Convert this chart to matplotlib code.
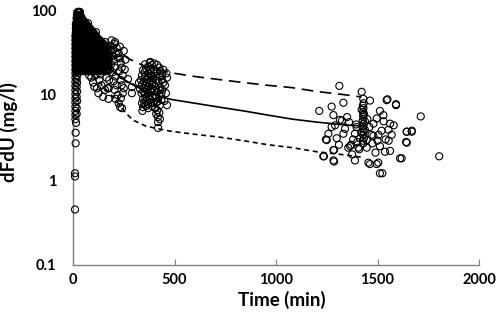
import matplotlib
matplotlib.use("Agg")
import matplotlib.pyplot as plt
from matplotlib.ticker import FixedLocator, NullLocator, FixedFormatter

plt.rcParams['font.family'] = ['Lato', 'DejaVu Sans']

# ---------------- data ----------------
# early samples (0-300 min): nominal time columns with concentrations (mg/l)
early_col_time = [12, 16, 20, 26, 32, 40, 48, 56, 64, 72, 80, 88, 96, 104,
                  112, 120, 130, 140, 150, 160, 170,
                  14, 18, 23, 29, 36, 44, 52, 60, 68, 76, 84, 92, 100, 108,
                  116, 125, 135, 145, 155, 165, 175]
early_col_conc = [
    [5.2, 5.8, 6.5, 7.3, 8.2, 9.1, 10.2, 11.4, 12.8, 14.3, 16, 18, 20.1, 22.5, 25.2, 28.3, 31.7, 35.5, 39.7, 44.5, 49.8],
    [19, 21.3, 23.8, 26.7, 29.9, 33.5, 37.5, 42, 47, 52.7, 59, 66],
    [8.5, 11, 14, 17, 20.1, 22.5, 25.2, 28.3, 31.7, 35.5, 39.7, 44.5, 49.8, 55.8, 62.5, 70, 78.4],
    [19, 21.3, 23.8, 26.7, 29.9, 33.5, 37.5, 42, 47, 52.7, 59, 66, 74, 83, 93],
    [20.1, 22.5, 25.2, 28.3, 31.7, 35.5, 39.7, 44.5, 49.8, 55.8, 62.5, 70, 78.4, 87.8],
    [19, 21.3, 23.8, 26.7, 29.9, 33.5, 37.5, 42, 47, 52.7, 59, 66, 74, 82],
    [20.1, 22.5, 25.2, 28.3, 31.7, 35.5, 39.7, 44.5, 49.8, 55.8, 62.5, 70, 77],
    [19, 21.3, 23.8, 26.7, 29.9, 33.5, 37.5, 42, 47, 52.7, 59, 66, 73],
    [20.1, 22.5, 25.2, 28.3, 31.7, 35.5, 39.7, 44.5, 49.8, 55.8, 62.5, 69],
    [19, 21.3, 23.8, 26.7, 29.9, 33.5, 37.5, 42, 47, 52.7, 59, 65],
    [20.1, 22.5, 25.2, 28.3, 31.7, 35.5, 39.7, 44.5, 49.8, 55.8, 62],
    [19, 21.3, 23.8, 26.7, 29.9, 33.5, 37.5, 42, 47, 52.7, 59],
    [20.1, 22.5, 25.2, 28.3, 31.7, 35.5, 39.7, 44.5, 49.8, 56],
    [19, 21.3, 23.8, 26.7, 29.9, 33.5, 37.5, 42, 47, 53],
    [20.1, 22.5, 25.2, 28.3, 31.7, 35.5, 39.7, 44.5, 50],
    [19, 21.3, 23.8, 26.7, 29.9, 33.5, 37.5, 42, 47],
    [20.1, 22.5, 25.2, 28.3, 31.7, 35.5, 39.7, 44.5],
    [19, 21.3, 23.8, 26.7, 29.9, 33.5, 37.5, 42],
    [20.1, 22.5, 25.2, 28.3, 31.7, 35.5, 40],
    [19, 21.3, 23.8, 26.7, 29.9, 33.5, 38],
    [20.1, 22.5, 25.2, 28.3, 31.7, 36],
    [19.5, 22, 24.5, 27.5, 30.8, 34.5, 38.6, 43.2, 48.4, 54.2, 60.7, 68],
    [6, 7, 9.5, 12.5, 15.5, 18.5, 20.6, 23.1, 25.9, 29, 32.5, 36.4, 40.8, 45.7, 51.2, 57.3, 64.2, 71.9, 80],
    [19.5, 22, 24.5, 27.5, 30.8, 34.5, 38.6, 43.2, 48.4, 54.2, 60.7, 68, 76.2, 85.3, 95],
    [19.5, 21.9, 24.5, 27.4, 30.7, 34.4, 38.5, 43.1, 48.3, 54.1, 60.6, 67.9, 76, 85, 95],
    [19.5, 22, 24.5, 27.5, 30.8, 34.5, 38.6, 43.2, 48.4, 54.2, 60.7, 68, 76, 85],
    [19.5, 22, 24.5, 27.5, 30.8, 34.5, 38.6, 43.2, 48.4, 54.2, 60.7, 68, 76],
    [19.5, 22, 24.5, 27.5, 30.8, 34.5, 38.6, 43.2, 48.4, 54.2, 60.7, 68, 74],
    [19.5, 22, 24.5, 27.5, 30.8, 34.5, 38.6, 43.2, 48.4, 54.2, 60.7, 68],
    [19.5, 22, 24.5, 27.5, 30.8, 34.5, 38.6, 43.2, 48.4, 54.2, 60.7, 66],
    [19.5, 22, 24.5, 27.5, 30.8, 34.5, 38.6, 43.2, 48.4, 54.2, 60.7],
    [19.5, 22, 24.5, 27.5, 30.8, 34.5, 38.6, 43.2, 48.4, 54.2, 59],
    [19.5, 22, 24.5, 27.5, 30.8, 34.5, 38.6, 43.2, 48.4, 54.2],
    [19.5, 22, 24.5, 27.5, 30.8, 34.5, 38.6, 43.2, 48.4, 53],
    [19.5, 22, 24.5, 27.5, 30.8, 34.5, 38.6, 43.2, 48.4],
    [19.5, 22, 24.5, 27.5, 30.8, 34.5, 38.6, 43.2, 47],
    [19.5, 22, 24.5, 27.5, 30.8, 34.5, 38.6, 43.2],
    [19.5, 22, 24.5, 27.5, 30.8, 34.5, 38.6, 43],
    [19.5, 22, 24.5, 27.5, 30.8, 34.5, 38.6],
    [19.5, 22, 24.5, 27.5, 30.8, 34.5, 38],
    [19.5, 22, 24.5, 27.5, 30.8, 34.5],
    [19.5, 22, 24.5, 27.5, 30.8, 34],
]

# individual early / scattered samples
extra_time = [10, 10, 10, 13, 13, 15, 20, 30, 34, 40, 74, 113, 158,
              99, 118, 158, 148, 90, 110, 130, 140, 165, 125, 105, 170, 80, 175, 135,
              185, 190, 195, 200, 188, 205, 195, 210, 200, 215, 205, 220, 210, 225, 232, 241,
              215, 225, 230, 235, 240, 228, 245, 235, 240, 250, 245, 236, 220, 212, 198, 205,
              190, 180, 182, 178, 176, 271, 290, 290, 255, 258, 250, 207, 231]
extra_conc = [0.45, 1.1, 1.2, 2.7, 3.6, 4.7, 87, 92, 95, 83, 70, 55, 42,
              14, 12, 11.5, 9.5, 16, 17, 15, 13, 16, 10.5, 12.5, 12, 17, 9, 17.5,
              38, 33, 29, 26, 23, 21, 18.5, 16.5, 14.5, 13, 11.5, 10, 9, 8, 7.2, 7,
              36, 31, 27, 24, 21, 19, 17, 15, 13, 12, 10.5, 9.2, 27.5, 30.5, 34, 40,
              44, 28, 20, 15, 12, 15.4, 12.4, 10.5, 20, 26, 33, 42, 37]

# 6-8 h samples
mid_time = [389, 414, 345, 360, 400, 430, 370, 340, 355, 385, 410, 440, 463, 335,
            350, 365, 380, 395, 420, 445, 453, 340, 360, 375, 390, 405, 430, 350,
            365, 385, 400, 415, 440, 458, 338, 355, 372, 392, 410, 425, 345, 362,
            380, 398, 418, 435, 352, 370, 345, 340, 370, 390, 405, 415, 425, 410,
            418, 419, 419, 463, 450, 330, 325, 370, 355, 380, 400, 425, 445, 460,
            379, 438, 342, 428,
            352, 368, 383, 398, 412, 362, 378, 393, 408, 423, 347, 368, 388, 403,
            422, 435, 357, 377, 395, 412, 428, 360]
mid_conc = [22.6, 22.6, 19.6, 20.5, 20, 19, 18, 17, 16.5, 17, 16.8, 17, 16, 15,
            14.5, 15.2, 14.8, 15.5, 14.6, 14, 13, 13.3, 13, 12.5, 13.2, 12.6, 12.2, 12,
            11.4, 11, 11.3, 10.9, 11.5, 10.5, 10.5, 10.2, 9.8, 9.6, 9.3, 9.8, 9, 8.6,
            8.8, 8.3, 8.4, 8.8, 8, 7.8, 7.2, 8.0, 7.0, 7.4, 7.0, 6.6, 6.2, 6,
            5.5, 4.8, 4.1, 7.6, 8.5, 11.8, 14, 21.5, 23, 24.5, 23.5, 21, 19.8, 18,
            24, 15, 6.5, 5.2,
            18.5, 16, 19.5, 18, 19, 14, 13.8, 14, 15, 16.5, 11, 10.7, 12, 10,
            11.5, 10.3, 9.3, 9, 8, 8.2, 7.6, 7.4]

# ~24 h samples
late_time = [1312, 1422, 1463, 1545, 1591, 1332, 1274, 1213, 1713, 1422, 1430, 1438,
             1512, 1529, 1283, 1315, 1291, 1274, 1332, 1258, 1299, 1250, 1389, 1480,
             1562, 1554, 1570, 1644, 1669, 1641, 1365, 1406, 1447, 1512, 1537, 1562,
             1611, 1283, 1233, 1283, 1389, 1455, 1504, 1512, 1414, 1447, 1471, 1438,
             1397, 1496, 1246, 1236, 1286, 1286, 1524, 1619, 1644, 1644, 1669, 1591,
             1549, 1804, 1463, 1496, 1356,
             1430, 1432, 1428, 1431, 1429, 1433, 1430, 1427, 1432, 1430, 1429, 1431,
             1430, 1433, 1428, 1430,
             1340, 1360, 1380, 1400, 1420, 1460, 1480, 1500, 1520, 1350, 1370, 1395,
             1410, 1450, 1475, 1505, 1530, 1555, 1310, 1325, 1375, 1490, 1540, 1580]
late_conc = [12.8, 10.9, 8.6, 8.7, 7.6, 8.1, 7.3, 6.5, 5.6, 6.7, 5.8, 4.9,
             6.5, 5.8, 5.8, 5.1, 4.4, 4.2, 3.5, 3.5, 3.1, 2.95, 3.5, 4.6,
             4.6, 3.9, 3.4, 3.7, 3.7, 2.8, 2.5, 2.4, 2.4, 2.5, 2.15, 2.2,
             1.8, 2.25, 1.9, 1.7, 1.7, 1.6, 1.6, 1.2, 3.1, 2.95, 3.4, 3.9,
             4.2, 5.3, 3.0, 1.9, 2.25, 1.65, 1.2, 1.8, 2.75, 3.7, 3.8, 7.8,
             8.9, 1.9, 1.54, 1.54, 2.4,
             9.0, 8.0, 7.5, 7.0, 6.3, 6.0, 5.5, 5.0, 4.6, 4.3, 4.0, 3.7,
             3.4, 3.1, 2.9, 2.7,
             4.0, 4.8, 3.0, 2.8, 3.6, 4.2, 3.3, 2.9, 3.8, 5.5, 2.6, 4.5,
             2.3, 5.2, 2.7, 3.4, 4.9, 2.9, 2.6, 5.0, 2.0, 2.1, 3.0, 4.4]

# model prediction lines
line_time = [30, 60, 90, 120, 150, 180, 210, 240, 270, 300, 360, 420, 480,
             600, 720, 840, 960, 1080, 1200, 1320, 1420]
median = [40, 37, 33, 28, 24, 20.5, 18, 15.8, 14.3, 13, 11, 9.8, 8.9,
          8.0, 7.2, 6.5, 5.8, 5.2, 4.8, 4.5, 4.3]
upper = [70, 62, 55, 48, 42, 37, 36, 31, 27, 25, 21.5, 19.8, 18.3,
         16.5, 15.2, 14.0, 13.0, 12.2, 11.0, 10.2, 9.5]
lower = [22, 20, 18, 15, 12.5, 10.5, 8.7, 7.0, 5.8, 5.0, 4.3, 4.0, 3.75,
         3.45, 3.2, 2.9, 2.6, 2.4, 2.15, 2.0, 1.86]

x_ticks = [0, 500, 1000, 1500, 2000]
y_ticks = [0.1, 1, 10, 100]
y_tick_labels = ['0.1', '1', '10', '100']

# ---------------- plot ----------------
all_t, all_c = [], []
for t, cs in zip(early_col_time, early_col_conc):
    all_t += [t] * len(cs)
    all_c += cs
all_t += extra_time + mid_time + late_time
all_c += extra_conc + mid_conc + late_conc

fig = plt.figure(figsize=(4.98, 3.16), dpi=100)
ax = fig.add_axes([73/498, 1 - 265/316, 406/498, 255/316])

ax.plot(line_time, upper, color='black', lw=1.2, dashes=(7, 4), zorder=2)
ax.plot(line_time, median, color='black', lw=1.2, zorder=2)
ax.plot(line_time, lower, color='black', lw=1.2, dashes=(3, 2.2), zorder=2)

ax.scatter(all_t, all_c, s=26, facecolors='none', edgecolors='black',
           linewidths=0.8, zorder=3, clip_on=False)

ax.set_yscale('log')
ax.set_xlim(0, 2000)
ax.set_ylim(0.1, 100)
ax.xaxis.set_major_locator(FixedLocator(x_ticks))
ax.yaxis.set_major_locator(FixedLocator(y_ticks))
ax.yaxis.set_major_formatter(FixedFormatter(y_tick_labels))
ax.yaxis.set_minor_locator(NullLocator())
ax.xaxis.set_minor_locator(NullLocator())

for s in ['top', 'right']:
    ax.spines[s].set_visible(False)
for s in ['left', 'bottom']:
    ax.spines[s].set_color('#808080')
    ax.spines[s].set_linewidth(1.0)

ax.tick_params(axis='x', direction='in', length=4, color='#808080', pad=6,
               labelsize=10.5)
ax.tick_params(axis='y', direction='in', length=0, color='#808080', pad=12,
               labelsize=10.5)
for lab in ax.get_xticklabels() + ax.get_yticklabels():
    lab.set_fontweight('bold')

ax.set_xlabel('Time (min)', fontsize=13.5, fontweight='bold')
ax.set_ylabel('dFdU (mg/l)', fontsize=13.5, fontweight='bold')
ax.xaxis.set_label_coords(0.515, -0.1)
ax.yaxis.set_label_coords(-0.135, 0.52)

fig.savefig('out.png', dpi=100)
